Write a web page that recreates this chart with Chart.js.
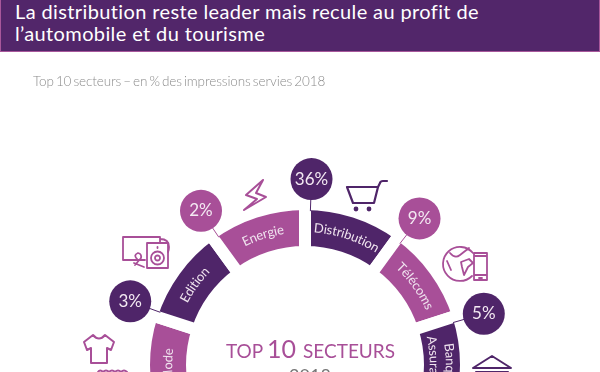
<!DOCTYPE html>
<html lang="fr">
<head>
<meta charset="utf-8">
<title>Top 10 secteurs</title>
<script src="https://cdn.jsdelivr.net/npm/chart.js@4"></script>
<style>
  html, body { margin: 0; padding: 0; width: 600px; height: 372px; overflow: hidden; background: #fff; }
  body { position: relative; font-family: Lato, sans-serif; }
  #head { position: absolute; left: 0; top: 0; width: 598px; height: 51px; background: #52266a;
    border: 1px solid #a8579b; border-top: 0; }
  #head div { position: absolute; left: 14px; color: #fff; font-size: 20px; letter-spacing: .38px; line-height: 24px; white-space: nowrap; }
  #sub { position: absolute; left: 33px; top: 73px; color: #8c8c8c; font-size: 13.5px; letter-spacing: -.1px; word-spacing: -1.5px; line-height: 17px; font-weight: 300; white-space: nowrap; }
  #chart { position: absolute; left: 0; top: 0; }
</style>
</head>
<body>
<canvas id="chart" width="610" height="730"></canvas>
<div id="head">
  <div style="top:-1px">La distribution reste leader mais recule au profit de</div>
  <div style="top:21px">l’automobile et du tourisme</div>
</div>
<div id="sub">Top 10 secteurs – en % des impressions servies 2018</div>
<script>
// the reference is cropped at the bottom: only 6 of the 10 sectors can be seen
const sectors = ["Distribution", "Télécoms", "Banque\nAssurance", "", "Mode", "Edition", "Energie"];
const slots = [1, 1, 1, 4, 1, 1, 1];
const shares = [36, 9, 5, null, null, 3, 2];

const DARK = "#4f2569";
const PINK = "#a84f98";
const sliceColors = [DARK, PINK, DARK, "rgba(0,0,0,0)", PINK, DARK, PINK];
const bubbleColors = [DARK, PINK, DARK, null, null, DARK, PINK];

// the white border eats GAP/2 on each side of a slice, so the ring is drawn that much thicker
const GAP = 12;
const OUTER = 155;
const INNER = 119;
const BUBBLE_R = 186;

// text bent along the ring, one letter at a time
function arcText(ctx, cx, cy, text, radius, midAngle) {
  ctx.save();
  ctx.textAlign = "left";
  ctx.textBaseline = "middle";
  const total = ctx.measureText(text).width;
  let a = midAngle - total / 2 / radius;
  for (const ch of text) {
    const w = ctx.measureText(ch).width;
    const m = a + w / 2 / radius;
    ctx.save();
    ctx.translate(cx + Math.cos(m) * radius, cy + Math.sin(m) * radius);
    ctx.rotate(m + Math.PI / 2);
    ctx.fillText(ch, -w / 2, 0);
    ctx.restore();
    a += w / radius;
  }
  ctx.restore();
}

function drawIcon(ctx, x, y, color, width, path) {
  ctx.save();
  ctx.translate(x, y);
  ctx.strokeStyle = color;
  ctx.lineWidth = width;
  ctx.lineJoin = "round";
  ctx.lineCap = "round";
  ctx.stroke(new Path2D(path));
  ctx.restore();
}

const ringLabels = {
  id: "ringLabels",
  afterDatasetsDraw(chart) {
    const ctx = chart.ctx;
    const arcs = chart.getDatasetMeta(0).data;
    arcs.forEach((arc, i) => {
      if (!sectors[i]) return;
      const p = arc.getProps(["x", "y", "startAngle", "endAngle"], true);
      const mid = (p.startAngle + p.endAngle) / 2;
      ctx.fillStyle = "#f0e4ef";
      ctx.font = "13px Lato, sans-serif";
      const lines = sectors[i].split("\n");
      if (lines.length === 2) {
        arcText(ctx, p.x, p.y, lines[0], 145, mid);
        arcText(ctx, p.x, p.y, lines[1], 129, mid);
      } else {
        arcText(ctx, p.x, p.y, lines[0], 137, mid);
      }

      if (shares[i] === null) return;
      const ang = p.startAngle + 0.035;
      const bx = p.x + Math.cos(ang) * BUBBLE_R;
      const by = p.y + Math.sin(ang) * BUBBLE_R;
      ctx.strokeStyle = bubbleColors[i];
      ctx.lineWidth = 1;
      ctx.beginPath();
      ctx.moveTo(p.x + Math.cos(ang) * (OUTER - 1), p.y + Math.sin(ang) * (OUTER - 1));
      ctx.lineTo(bx, by);
      ctx.stroke();
      ctx.fillStyle = bubbleColors[i];
      ctx.beginPath();
      ctx.arc(bx, by, 21, 0, Math.PI * 2);
      ctx.fill();
      ctx.fillStyle = "#f3e9f2";
      ctx.font = "17px Lato, sans-serif";
      ctx.textAlign = "center";
      ctx.textBaseline = "middle";
      ctx.fillText(shares[i] + "%", bx, by);
    });

    // centre title
    const cx = arcs[0].x;
    ctx.textBaseline = "alphabetic";
    ctx.textAlign = "left";
    ctx.fillStyle = PINK;
    ctx.font = "19px Lato, sans-serif";
    ctx.fillText("TOP", 226, 358);
    ctx.font = "25px Lato, sans-serif";
    ctx.fillText("10", 267, 358);
    ctx.font = "19px Lato, sans-serif";
    ctx.fillText("SECTEURS", 303, 358);
    ctx.fillStyle = "#777";
    ctx.font = "18px Lato, sans-serif";
    ctx.textAlign = "center";
    ctx.fillText("2018", cx + 5, 382);

    // icons
    drawIcon(ctx, 347, 181, DARK, 2.2, "M0 6 H31 L27 22 H6 Z M31 6 L33 2 Q33.5 0 36 0 H40");
    ctx.fillStyle = DARK;
    ctx.beginPath();
    ctx.arc(356, 209, 2.4, 0, Math.PI * 2);
    ctx.arc(369, 209, 2.4, 0, Math.PI * 2);
    ctx.fill();
    drawIcon(ctx, 243, 180, PINK, 2, "M20 0 L3 15 L14 19 L1 30 L23 17 L13 13 Z");
    drawIcon(ctx, 122, 236, PINK, 1.8, "M23 24 H1 V1 H38 V6 M38 3 Q47 3 47 11 Q47 14 46 16 M12 27 L22 31 M15 23 Q11 19 16 17 Q20 18 19 22 L13 29");
    drawIcon(ctx, 146, 242, PINK, 1.8, "M1 1 H22 V26 H1 Z M11.5 5 v1 M5 16 a6.5 6.5 0 1 0 13 0 a6.5 6.5 0 1 0 -13 0 M9 16 a2.5 2.5 0 1 0 5 0 a2.5 2.5 0 1 0 -5 0");
    drawIcon(ctx, 83, 335, PINK, 2, "M10 0 Q16 7 22 0 L31 7 L28 15 L24 13 V28 H8 V13 L4 15 L1 7 Z");
    drawIcon(ctx, 97, 369, PINK, 2, "M1 3 Q3 0 6 3 Q9 0 12 3 Q15 0 18 3 Q21 0 24 3 Q27 0 30 3");
    drawIcon(ctx, 445, 246, PINK, 1.8, "M28 7 A17 17 0 1 0 27 30 M5 7 Q10 13 15 9 L24 2 M16 16 L24 13 L28 17 L23 21 L19 29 L17 21 Z M2 15 L6 24");
    drawIcon(ctx, 473, 252, PINK, 1.8, "M1 1 H14 V28 H1 Z M1 4 H14 M1 23 H14 M6 26 h3");
    drawIcon(ctx, 473, 356, DARK, 2, "M0 12 L19 0 L38 12 Z M3 16 H35 M5 16 v8 M11 16 v8 M17 16 v8 M23 16 v8 M29 16 v8 M34 16 v8");
  }
};

new Chart(document.getElementById("chart"), {
  type: "doughnut",
  data: {
    labels: sectors,
    datasets: [{
      data: slots,
      backgroundColor: sliceColors,
      borderColor: "#fff",
      borderWidth: GAP,
      hoverOffset: 0
    }]
  },
  options: {
    responsive: false,
    animation: false,
    radius: OUTER + GAP / 2,
    cutout: ((INNER - GAP / 2) / (OUTER + GAP / 2) * 100) + "%",
    events: [],
    plugins: { legend: { display: false }, tooltip: { enabled: false } }
  },
  plugins: [ringLabels]
});
</script>
</body>
</html>
